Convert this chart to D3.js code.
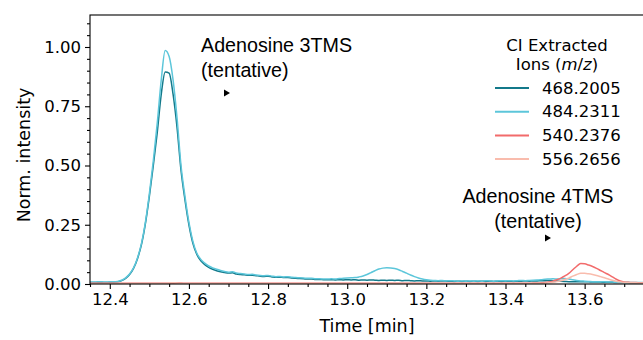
<!DOCTYPE html>
<html>
<head>
<meta charset="utf-8">
<script src="https://cdn.jsdelivr.net/npm/d3@7"></script>
<style>
    body { margin: 0; background: #fff; }
    #chart-area { width: 643px; height: 340px; overflow: hidden; }
    .tick-label, .legend-text { font-family: "DejaVu Sans", sans-serif; font-size: 16.5px; fill: #000; }
    .axis-title { font-family: "DejaVu Sans", sans-serif; font-size: 17.5px; fill: #000; }
    .annot { font-family: "Liberation Sans", Arial, sans-serif; font-size: 19.7px; fill: #000; }
</style>
</head>
<body>
<div id="chart-area"></div>
<script>
// retention time grid [min]
const times = [
    12.35, 12.36, 12.37, 12.38, 12.39, 12.40, 12.41, 12.42, 12.43, 12.44,
    12.45, 12.46, 12.47, 12.48, 12.49, 12.50, 12.51, 12.52, 12.53, 12.54,
    12.55, 12.56, 12.57, 12.58, 12.59, 12.60, 12.61, 12.62, 12.63, 12.64,
    12.65, 12.66, 12.67, 12.68, 12.69, 12.70, 12.71, 12.72, 12.73, 12.74,
    12.75, 12.76, 12.77, 12.78, 12.79, 12.80, 12.81, 12.82, 12.83, 12.84,
    12.85, 12.86, 12.87, 12.88, 12.89, 12.90, 12.91, 12.92, 12.93, 12.94,
    12.95, 12.96, 12.97, 12.98, 12.99, 13.00, 13.01, 13.02, 13.03, 13.04,
    13.05, 13.06, 13.07, 13.08, 13.09, 13.10, 13.11, 13.12, 13.13, 13.14,
    13.15, 13.16, 13.17, 13.18, 13.19, 13.20, 13.21, 13.22, 13.23, 13.24,
    13.25, 13.26, 13.27, 13.28, 13.29, 13.30, 13.31, 13.32, 13.33, 13.34,
    13.35, 13.36, 13.37, 13.38, 13.39, 13.40, 13.41, 13.42, 13.43, 13.44,
    13.45, 13.46, 13.47, 13.48, 13.49, 13.50, 13.51, 13.52, 13.53, 13.54,
    13.55, 13.56, 13.57, 13.58, 13.59, 13.60, 13.61, 13.62, 13.63, 13.64,
    13.65, 13.66, 13.67, 13.68, 13.69, 13.70, 13.71, 13.72, 13.73, 13.74,
    13.75
];

// normalised extracted ion chromatograms
const ion468 = [
    .006, .006, .007, .007, .006, .007, .007, .009, .014, .024,
    .040, .066, .107, .166, .255, .370, .500, .640, .800, .895,
    .890, .800, .660, .480, .355, .250, .172, .125, .098, .082,
    .070, .062, .056, .052, .049, .046, .047, .042, .040, .039,
    .037, .037, .035, .033, .032, .033, .030, .028, .029, .027,
    .027, .025, .024, .023, .022, .021, .021, .019, .019, .018,
    .018, .018, .017, .018, .017, .018, .017, .018, .016, .017,
    .016, .017, .016, .015, .016, .015, .016, .015, .016, .014,
    .015, .014, .013, .014, .013, .013, .012, .013, .012, .013,
    .012, .012, .011, .012, .011, .012, .011, .012, .011, .012,
    .011, .012, .011, .012, .011, .012, .012, .011, .012, .012,
    .013, .012, .013, .013, .014, .014, .015, .014, .013, .012,
    .011, .010, .010, .009, .009, .009, .009, .008, .008, .008,
    .007, .007, .007, .006, .006, .006, .006, .005, .005, .005,
    .005
];
const ion484 = [
    .008, .008, .009, .009, .008, .009, .009, .011, .016, .026,
    .042, .068, .110, .170, .260, .380, .520, .680, .860, .985,
    .960, .860, .700, .500, .370, .260, .180, .130, .104, .088,
    .076, .068, .062, .057, .053, .050, .052, .046, .044, .042,
    .040, .041, .038, .036, .035, .036, .033, .031, .032, .030,
    .031, .028, .027, .026, .025, .024, .024, .022, .022, .021,
    .021, .022, .021, .023, .024, .025, .026, .027, .030, .034,
    .040, .048, .056, .063, .067, .069, .068, .065, .060, .053,
    .046, .038, .031, .025, .021, .018, .016, .015, .014, .015,
    .013, .014, .013, .012, .013, .012, .013, .012, .013, .012,
    .014, .013, .012, .013, .014, .013, .014, .013, .014, .015,
    .014, .015, .016, .017, .018, .020, .021, .022, .021, .022,
    .023, .021, .018, .015, .013, .012, .011, .010, .010, .009,
    .009, .008, .008, .007, .007, .007, .006, .006, .006, .006,
    .006
];
const ion540 = [
    .003, .003, .003, .003, .003, .003, .003, .003, .003, .003,
    .003, .003, .003, .003, .003, .003, .003, .003, .003, .003,
    .003, .003, .004, .004, .003, .003, .003, .003, .003, .003,
    .003, .003, .003, .003, .003, .003, .003, .003, .003, .003,
    .003, .003, .003, .003, .003, .003, .003, .003, .003, .003,
    .003, .003, .003, .003, .003, .003, .003, .003, .003, .003,
    .003, .003, .003, .003, .003, .003, .003, .003, .003, .003,
    .003, .003, .003, .003, .003, .003, .003, .003, .003, .003,
    .003, .003, .003, .003, .003, .003, .003, .003, .003, .003,
    .003, .003, .003, .003, .003, .003, .003, .003, .003, .003,
    .003, .003, .003, .003, .003, .003, .003, .003, .003, .003,
    .003, .003, .004, .004, .005, .006, .008, .012, .018, .025,
    .034, .045, .060, .075, .086, .085, .080, .074, .066, .057,
    .048, .040, .030, .020, .013, .009, .007, .006, .006, .005,
    .005
];
const ion556 = [
    .002, .002, .002, .002, .002, .002, .002, .002, .002, .002,
    .002, .002, .002, .002, .002, .002, .002, .002, .002, .002,
    .004, .005, .004, .003, .002, .002, .002, .002, .002, .002,
    .002, .002, .002, .002, .002, .002, .002, .002, .002, .002,
    .002, .002, .002, .002, .002, .002, .002, .002, .002, .002,
    .002, .002, .002, .002, .002, .002, .002, .002, .002, .002,
    .002, .002, .002, .002, .002, .002, .002, .002, .002, .002,
    .002, .002, .002, .002, .002, .002, .002, .002, .002, .002,
    .002, .002, .002, .002, .002, .002, .002, .002, .002, .002,
    .002, .002, .002, .002, .002, .002, .002, .002, .002, .002,
    .002, .002, .002, .002, .002, .002, .002, .002, .002, .002,
    .002, .002, .003, .003, .003, .004, .005, .007, .010, .014,
    .019, .025, .033, .040, .045, .045, .043, .040, .036, .031,
    .026, .021, .016, .012, .009, .007, .006, .005, .005, .004,
    .004
];

const ionLabels = ["468.2005", "484.2311", "540.2376", "556.2656"];
const ionColors = ["#13798a", "#5cc6da", "#f26b6b", "#f9bcad"];

const xTicks = [12.4, 12.6, 12.8, 13.0, 13.2, 13.4, 13.6];
const yTicks = [0, 0.25, 0.5, 0.75, 1.0];

class ChromatogramVis {
    constructor(parentElement) {
        this.parentElement = parentElement;
        this.initVis();
    }

    initVis() {
        let vis = this;

        vis.margin = { top: 15, left: 90 };
        vis.width = 554;
        vis.height = 269;

        vis.svg = d3.select("#" + vis.parentElement).append("svg")
            .attr("width", 643)
            .attr("height", 340);

        vis.g = vis.svg.append("g")
            .attr("transform", `translate(${vis.margin.left},${vis.margin.top})`);

        vis.x = d3.scaleLinear().domain([12.35, 13.75]).range([0, vis.width]);
        vis.y = d3.scaleLinear().domain([0, 1.135]).range([vis.height, 0]);

        vis.g.append("clipPath").attr("id", "plot-clip")
            .append("rect").attr("width", vis.width).attr("height", vis.height);

        vis.wrangleData();
    }

    wrangleData() {
        let vis = this;

        let series = [ion468, ion484, ion540, ion556];
        vis.series = series.map((vals, i) => ({
            label: ionLabels[i],
            color: ionColors[i],
            values: times.map((t, j) => ({ t: t, v: vals[j] }))
        }));

        vis.updateVis();
    }

    updateVis() {
        let vis = this;

        let line = d3.line()
            .x(d => vis.x(d.t))
            .y(d => vis.y(d.v))
            .curve(d3.curveMonotoneX);

        //Chromatogram traces
        vis.g.append("g").attr("clip-path", "url(#plot-clip)")
            .selectAll(".trace")
            .data(vis.series)
            .join("path")
            .attr("class", "trace")
            .attr("d", d => line(d.values))
            .style("fill", "none")
            .style("stroke", d => d.color)
            .style("stroke-width", 1.5)
            .style("stroke-linejoin", "round");

        //Axes (matplotlib-like outward ticks)
        let xAxis = d3.axisBottom(vis.x).tickValues(xTicks).tickFormat(d3.format(".1f"))
            .tickSize(5).tickPadding(4);
        let xMinor = d3.axisBottom(vis.x)
            .tickValues(d3.range(12.35, 13.751, 0.05).filter(v => !xTicks.some(t => Math.abs(t - v) < 1e-6)))
            .tickFormat("").tickSize(3);
        let yAxis = d3.axisLeft(vis.y).tickValues(yTicks).tickFormat(d3.format(".2f"))
            .tickSize(5).tickPadding(4);
        let yMinor = d3.axisLeft(vis.y)
            .tickValues(d3.range(0.05, 1.13, 0.05).filter(v => !yTicks.some(t => Math.abs(t - v) < 1e-6)))
            .tickFormat("").tickSize(3);

        [xAxis, xMinor].forEach(ax => {
            vis.g.append("g").attr("transform", `translate(0,${vis.height})`).call(ax);
        });
        [yAxis, yMinor].forEach(ax => {
            vis.g.append("g").call(ax);
        });

        vis.g.selectAll(".domain").remove();
        vis.g.selectAll(".tick line").attr("stroke", "#000").attr("stroke-width", 1.1);
        vis.g.selectAll(".tick text").attr("class", "tick-label").attr("font-size", null).attr("font-family", null);

        //Frame
        vis.g.append("rect")
            .attr("width", vis.width).attr("height", vis.height)
            .style("fill", "none").style("stroke", "#000").style("stroke-width", 1.1);

        //Axis titles
        vis.svg.append("text").attr("class", "axis-title")
            .attr("x", 367)
            .attr("y", 332)
            .attr("text-anchor", "middle")
            .text("Time [min]");

        vis.svg.append("text").attr("class", "axis-title")
            .attr("transform", "translate(30,155) rotate(-90)")
            .attr("text-anchor", "middle")
            .text("Norm. intensity");

        //Annotations
        let annots = [
            { lines: ["Adenosine 3TMS", "(tentative)"], x: 201, y: 52, anchor: "start", ax: 227, ay: 93 },
            { lines: ["Adenosine 4TMS", "(tentative)"], x: 538, y: 203, anchor: "middle", ax: 548, ay: 238 }
        ];
        annots.forEach(a => {
            a.lines.forEach((txt, i) => {
                vis.svg.append("text").attr("class", "annot")
                    .attr("x", a.x).attr("y", a.y + i * 24.5)
                    .attr("text-anchor", a.anchor)
                    .text(txt);
            });
            vis.svg.append("path")
                .attr("d", `M${a.ax - 3},${a.ay - 3.5} L${a.ax + 3},${a.ay} L${a.ax - 3},${a.ay + 3.5} Z`)
                .style("fill", "#000");
        });

        //Legend
        let legend = vis.svg.append("g").attr("class", "legend");
        legend.append("text").attr("class", "legend-text")
            .attr("x", 557).attr("y", 51).attr("text-anchor", "middle")
            .text("CI Extracted");
        let t2 = legend.append("text").attr("class", "legend-text")
            .attr("x", 557).attr("y", 70).attr("text-anchor", "middle");
        t2.append("tspan").text("Ions (");
        t2.append("tspan").style("font-style", "italic").text("m");
        t2.append("tspan").text("/");
        t2.append("tspan").style("font-style", "italic").text("z");
        t2.append("tspan").text(")");

        let items = legend.selectAll(".legend-item")
            .data(vis.series)
            .join("g")
            .attr("class", "legend-item")
            .attr("transform", (d, i) => `translate(0,${88 + i * 23.7})`);
        items.append("line")
            .attr("x1", 495).attr("x2", 529)
            .style("stroke", d => d.color).style("stroke-width", 2);
        items.append("text").attr("class", "legend-text")
            .attr("x", 542).attr("dy", "0.35em")
            .text(d => d.label);
    }
}

new ChromatogramVis("chart-area");
</script>
</body>
</html>
